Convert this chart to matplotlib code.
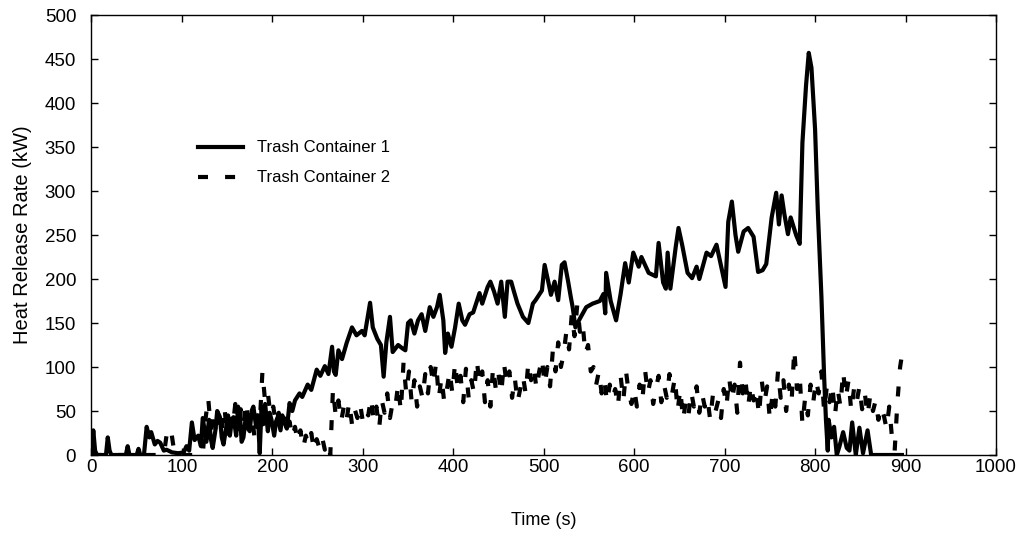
import matplotlib
matplotlib.use("Agg")
import matplotlib.pyplot as plt

plt.rcParams['font.family'] = ['Liberation Sans', 'DejaVu Sans']

# Trash Container 1 (solid)
t1 = [0, 2, 4, 6, 16, 18, 20, 22, 38, 40, 42, 50, 52, 54, 58, 61, 64, 66, 70, 73, 76, 80, 83, 89, 96,
      102, 105, 108, 111, 114, 118, 121, 123, 127, 130, 132, 134, 137, 139, 142, 144, 146, 149, 151,
      153, 155, 157, 160, 162, 164, 166, 168, 171, 173, 175, 177, 179, 182, 184, 186, 188, 190, 192,
      195, 197, 199, 202, 204, 206, 209, 211, 213, 216, 219, 222, 225, 230, 233, 239,
      243, 249, 253, 258, 262, 266, 268, 270, 273, 277, 282, 288, 293, 299, 302, 308, 311, 316, 320,
      323, 326, 330, 333, 339, 344, 347, 350, 353, 357, 361, 365, 369, 374, 378, 382, 385, 389, 391,
      394, 398, 402, 406, 410, 413, 418, 422, 429, 432, 438, 441, 445, 449, 453, 457, 460, 464, 467,
      471, 477, 483, 488, 491, 498, 501, 505, 508, 512, 516, 520, 523, 527, 530, 532, 535, 540, 547,
      554, 562, 566, 568, 569, 574, 580, 585, 590, 594, 599, 605, 608, 616, 624, 627, 632, 635, 637,
      640, 646, 649, 653, 659, 664, 669, 672, 680, 685, 691, 697, 701, 704, 708, 712, 715, 721, 726,
      732, 737, 742, 746, 752, 757, 760, 763, 766, 770, 773, 779, 783, 786, 790, 793, 796, 800, 803,
      807, 810, 812, 814, 815, 818, 821, 824, 827, 831, 835, 838, 841, 845, 849, 853, 858, 862, 868, 896]
v1 = [0, 28, 5, 0, 0, 20, 5, 0, 0, 10, 0, 0, 7, 0, 0, 32, 20, 26, 12, 16, 14, 5, 6, 3, 2,
      3, 10, 5, 37, 17, 22, 10, 42, 15, 40, 18, 8, 28, 50, 43, 20, 12, 32, 45,
      22, 38, 43, 22, 55, 48, 15, 20, 47, 30, 27, 50, 55, 32, 45, 2, 55, 35, 58,
      27, 48, 40, 22, 38, 43, 28, 45, 38, 30, 59, 50, 62, 70, 66, 80,
      74, 97, 90, 101, 92, 123, 95, 91, 119, 109, 127, 145, 136, 141, 136, 173, 145, 132, 125,
      89, 128, 157, 117, 125, 121, 119, 150, 153, 138, 153, 160, 141, 168, 157, 168, 182, 153, 116,
      138, 123, 145, 172, 153, 148, 160, 162, 184, 172, 191, 197, 186, 172, 197, 157, 197, 197, 186,
      172, 157, 150, 172, 176, 187, 216, 197, 182, 197, 176, 216, 219, 197, 179, 168, 145, 155, 168,
      172, 175, 183, 161, 207, 175, 153, 183, 218, 196, 230, 214, 225, 207, 203, 241, 196, 189, 230,
      189, 237, 258, 239, 207, 201, 214, 200, 230, 226, 239, 210, 191, 265, 288, 250, 231, 254, 258,
      248, 208, 210, 217, 270, 298, 262, 295, 274, 251, 270, 250, 240, 355, 420, 457, 440, 370, 278,
      180, 89, 40, 5, 40, 20, 32, 0, 10, 26, 8, 5, 37, 0, 31, 2, 28, 0, 0, 0]

# Trash Container 2 (dashed): early part, then samples every 3 s from 126 s
t2_early = [0, 80, 84, 88, 92, 123]
v2_early = [0, 0, 30, 28, 0, 0]
t2_grid = list(range(126, 898, 3))
v2_grid = [
    40, 65, 30, 50, 22, 45, 28, 55, 20, 48,
    30, 58, 25, 52, 35, 60, 28, 50, 22, 45,
    35, 95, 60, 70, 45, 55, 35, 48, 30, 42,
    25, 38, 20, 32, 15, 28, 8, 22, 12, 25,
    5, 18, 8, 20, 6, 14, 0, 75, 45, 62,
    38, 55, 40, 60, 35, 52, 42, 58, 38, 50,
    45, 65, 40, 55, 30, 62, 48, 70, 42, 60,
    55, 80, 50, 105, 70, 95, 60, 85, 55, 78,
    65, 92, 70, 100, 80, 105, 65, 88, 60, 75,
    95, 70, 105, 75, 90, 60, 98, 65, 85, 70,
    108, 80, 95, 60, 85, 55, 100, 75, 92, 70,
    105, 80, 95, 65, 88, 60, 75, 90, 70, 105,
    85, 100, 75, 95, 110, 80, 100, 78, 118, 95,
    128, 100, 115, 140, 120, 160, 135, 170, 140, 150,
    115, 125, 95, 100, 80, 95, 70, 85, 60, 80,
    65, 75, 55, 90, 62, 95, 70, 58, 75, 55,
    80, 62, 97, 70, 85, 58, 75, 90, 60, 80,
    65, 92, 70, 88, 50, 75, 40, 60, 45, 72,
    55, 78, 48, 70, 55, 65, 40, 68, 50, 62,
    42, 75, 55, 88, 62, 80, 48, 105, 70, 85,
    55, 80, 62, 75, 45, 85, 60, 78, 40, 70,
    55, 95, 65, 85, 50, 80, 60, 120, 75, 90,
    35, 65, 45, 80, 60, 85, 70, 95, 50, 78,
    60, 80, 45, 75, 55, 95, 65, 85, 50, 75,
    60, 78, 52, 70, 45, 68, 50, 62, 40, 55,
    45, 30, 55, 20, 5, 60, 100, 120]
t2 = t2_early + t2_grid
v2 = v2_early + v2_grid

labels = ["Trash Container 1", "Trash Container 2"]
xticks = [0, 100, 200, 300, 400, 500, 600, 700, 800, 900, 1000]
yticks = [0, 50, 100, 150, 200, 250, 300, 350, 400, 450, 500]

fig = plt.figure(figsize=(10.21, 5.37), dpi=100)
ax = fig.add_axes([0.0896, 0.1527, 0.8859, 0.8193])

ax.plot(t1, v1, color='black', lw=3, solid_joinstyle='round', label=labels[0])
ax.plot(t2, v2, color='black', lw=3, linestyle=(0, (2.4, 4.1)), dash_capstyle='butt',
        label=labels[1])

ax.set_xlim(0, 1000)
ax.set_ylim(0, 500)
ax.set_xticks(xticks)
ax.set_yticks(yticks)
ax.tick_params(direction='in', length=5, width=1, top=True, right=True, labelsize=13.5)
ax.tick_params(axis='x', pad=3)
ax.tick_params(axis='y', pad=11)
for s in ax.spines.values():
    s.set_linewidth(1)
ax.set_xlabel("Time (s)", fontsize=13, labelpad=26)
ax.set_ylabel("Heat Release Rate (kW)", fontsize=14.5, labelpad=9)

ax.legend(loc='center left', bbox_to_anchor=(0.118, 0.664), frameon=False, fontsize=12,
          handlelength=2.7, handletextpad=0.8, labelspacing=0.9, borderpad=0, borderaxespad=0)

fig.savefig("out.png", dpi=100)
